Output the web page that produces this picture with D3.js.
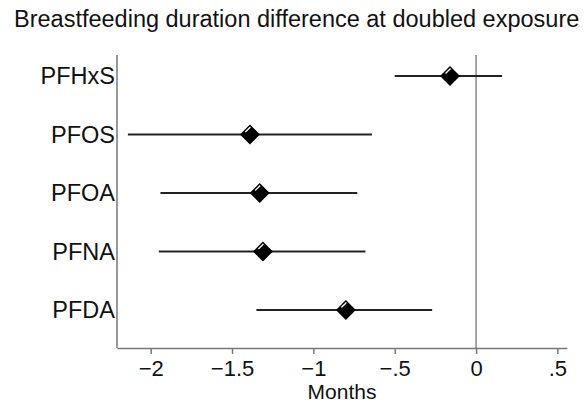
<!DOCTYPE html>
<html>
<head>
<meta charset="utf-8">
<script src="https://cdn.jsdelivr.net/npm/d3@7"></script>
<style>
  body { margin: 0; background: #fff; }
  text { font-family: "Liberation Sans", Arial, Helvetica, sans-serif; fill: #111; }
</style>
</head>
<body>
<script>
var width = 587;
var height = 405;

// estimates (months)
var exposures = ["PFHxS", "PFOS", "PFOA", "PFNA", "PFDA"];
var estimate  = [-0.16, -1.39, -1.33, -1.31, -0.80];
var lower     = [-0.50, -2.14, -1.94, -1.95, -1.35];
var upper     = [ 0.16, -0.64, -0.73, -0.68, -0.27];
var xTicks    = [-2, -1.5, -1, -0.5, 0, 0.5];
var xTickLabels = ["\u22122", "\u22121.5", "\u22121", "\u2212.5", "0", ".5"];

var svg = d3.select("body").append("svg")
  .attr("width", width)
  .attr("height", height);

var x = d3.scaleLinear()
  .domain([-2.207, 0.559])
  .range([117, 567]);

var y = d3.scalePoint()
  .domain(exposures)
  .range([76, 310]);

var plotTop = 55, plotBottom = 348;

svg.append("text")
  .attr("x", 14)
  .attr("y", 27)
  .style("font-size", "23.5px")
  .text("Breastfeeding duration difference at doubled exposure");

// zero reference line
svg.append("line")
  .attr("x1", x(0)).attr("x2", x(0))
  .attr("y1", plotTop).attr("y2", plotBottom)
  .attr("stroke", "#888")
  .attr("stroke-width", 1.5);

// axes
var xAxis = svg.append("g")
  .attr("transform", "translate(0," + plotBottom + ")")
  .call(d3.axisBottom(x).tickValues(xTicks)
    .tickFormat(function(d, i) { return xTickLabels[i]; })
    .tickSize(6).tickSizeOuter(0).tickPadding(6));
xAxis.select(".domain").attr("stroke", "#777").attr("stroke-width", 1.5);
xAxis.selectAll(".tick line").attr("stroke", "#777").attr("stroke-width", 1.5);
xAxis.selectAll("text")
  .style("font-size", "22px")
  .style("font-family", "'Liberation Sans', Arial, sans-serif")
  .attr("fill", "#111");

var yAxis = svg.append("g")
  .attr("transform", "translate(117,0)");
yAxis.append("line")
  .attr("x1", 0).attr("x2", 0)
  .attr("y1", plotTop).attr("y2", plotBottom)
  .attr("stroke", "#777")
  .attr("stroke-width", 1.5);
yAxis.selectAll("text")
  .data(exposures)
  .enter().append("text")
    .attr("x", -2)
    .attr("y", function(d) { return y(d); })
    .attr("dy", "0.36em")
    .attr("text-anchor", "end")
    .style("font-size", "23.5px")
    .text(function(d) { return d; });

svg.append("text")
  .attr("x", (117 + 567) / 2)
  .attr("y", 399)
  .attr("text-anchor", "middle")
  .style("font-size", "21px")
  .text("Months");

// confidence intervals
svg.append("g")
  .selectAll("line")
  .data(exposures)
  .enter().append("line")
    .attr("x1", function(d, i) { return x(lower[i]); })
    .attr("x2", function(d, i) { return x(upper[i]); })
    .attr("y1", function(d) { return y(d); })
    .attr("y2", function(d) { return y(d); })
    .attr("stroke", "#222")
    .attr("stroke-width", 2);

// diamonds
var r = 10;
var pts = svg.append("g")
  .selectAll("g")
  .data(exposures)
  .enter().append("g")
    .attr("transform", function(d, i) { return "translate(" + x(estimate[i]) + "," + y(d) + ")"; });

pts.append("path")
  .attr("d", "M0," + (-r) + "L" + r + ",0L0," + r + "L" + (-r) + ",0Z")
  .attr("fill", "#000");

pts.append("line")
  .attr("x1", 0.5).attr("y1", -r + 2.5)
  .attr("x2", -4.5).attr("y2", -r + 7.5)
  .attr("stroke", "#fff")
  .attr("stroke-width", 1.3);
</script>
</body>
</html>
